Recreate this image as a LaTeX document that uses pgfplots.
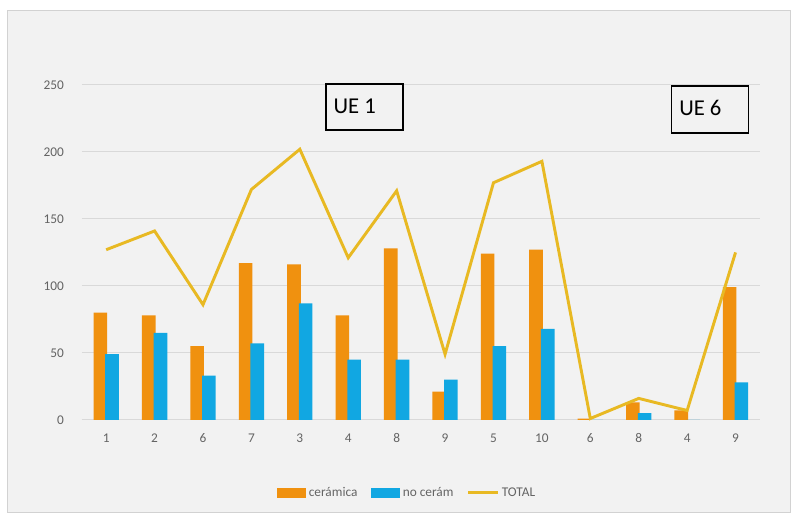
\documentclass[border=0pt]{standalone}
\usepackage{fontspec}
\setmainfont{Carlito}
\usepackage{pgfplots}
\pgfplotsset{compat=1.18}
\definecolor{cer}{RGB}{240,145,15}
\definecolor{nocer}{RGB}{17,167,226}
\definecolor{tot}{RGB}{232,185,35}
\definecolor{panel}{RGB}{242,242,242}
\definecolor{tickc}{RGB}{100,100,100}
\definecolor{gridc}{RGB}{217,217,217}
\begin{document}
\begin{tikzpicture}[x=0.75pt,y=0.75pt]
\fill[white] (0,0) rectangle (791,512);
\filldraw[fill=panel,draw={rgb,255:red,210;green,210;blue,210}] (7,0) rectangle (791,502);
\begin{axis}[
  at={(82*0.75pt,92*0.75pt)}, anchor=south west,
  scale only axis, width=508.5pt, height=251.25pt,
  xmin=-0.5, xmax=13.5, ymin=0, ymax=250,
  xtick={0,...,13},
  xticklabels={1,2,6,7,3,4,8,9,5,10,6,8,4,9},
  ytick={0,50,100,150,200,250},
  ymajorgrids, grid style={gridc, line width=0.8pt},
  axis x line*=bottom, axis y line*=left,
  x axis line style={gridc, line width=0.8pt, -},
  y axis line style={draw=none},
  major tick length=0pt,
  tick label style={font=\fontsize{10}{12}\selectfont, text=tickc},
  xticklabel style={yshift=-7pt},
  yticklabel style={xshift=-10pt},
  /pgf/number format/assume math mode=true,
  clip=false,
  legend style={at={(0.48,-0.218)}, anchor=center, draw=none, fill=none,
    legend columns=-1, font=\fontsize{10}{12}\selectfont, text=tickc,
    /tikz/every even column/.append style={column sep=8pt}},
  legend cell align=left,
]
\addplot[ybar, bar width=10.2pt, bar shift=-4.4pt, fill=cer, draw=none,
  legend image code/.code={\fill[cer] (0pt,-3.5pt) rectangle (22pt,3.5pt);}]
  coordinates {(0,80) (1,78) (2,55) (3,117) (4,116) (5,78) (6,128) (7,21) (8,124) (9,127) (10,1) (11,13) (12,7) (13,99)};
\addlegendentry{cerámica}
\addplot[ybar, bar width=10.2pt, bar shift=4.4pt, fill=nocer, draw=none,
  legend image code/.code={\fill[nocer] (0pt,-3.5pt) rectangle (22pt,3.5pt);}]
  coordinates {(0,49) (1,65) (2,33) (3,57) (4,87) (5,45) (6,45) (7,30) (8,55) (9,68) (10,0) (11,5) (12,0) (13,28)};
\addlegendentry{no cerám}
\addplot[tot, line width=2.2pt, mark=none, sharp plot,
  legend image code/.code={\draw[tot, line width=2.2pt] (0pt,0pt) -- (22pt,0pt);}]
  coordinates {(0,127) (1,141) (2,86) (3,172) (4,202) (5,121) (6,171) (7,49) (8,177) (9,193) (10,1) (11,16) (12,7) (13,125)};
\addlegendentry{TOTAL}
\draw[black, line width=0.9pt] (axis cs:4.54,216.4) rectangle (axis cs:6.13,250.7);
\node[anchor=west, font=\fontsize{17}{19}\selectfont] at (axis cs:4.6,234) {UE 1};
\draw[black, line width=0.9pt] (axis cs:11.68,214.2) rectangle (axis cs:13.27,249.3);
\node[anchor=west, font=\fontsize{17}{19}\selectfont] at (axis cs:11.74,233) {UE 6};
\end{axis}
\end{tikzpicture}
\end{document}
